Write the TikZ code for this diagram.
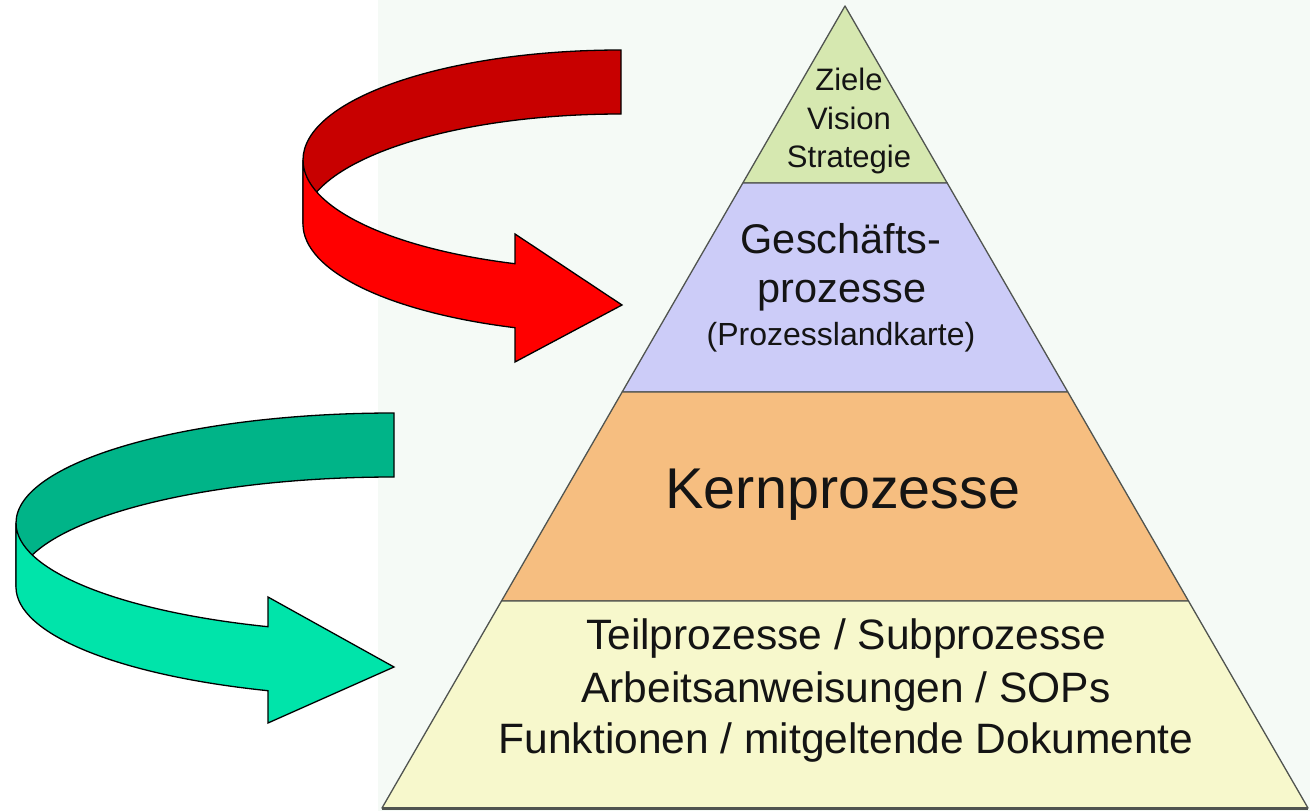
\documentclass[tikz,border=0pt]{standalone}
\usepackage{fontspec}
\setmainfont{Liberation Sans}
\usepackage{tikz}
\usetikzlibrary{calc}
\definecolor{bgpale}{RGB}{245,250,246}
\definecolor{edgegray}{RGB}{80,84,80}
\definecolor{txtdark}{RGB}{20,20,20}
\definecolor{lvlgreen}{RGB}{214,232,176}
\definecolor{lvlpurple}{RGB}{204,204,248}
\definecolor{lvlorange}{RGB}{246,190,128}
\definecolor{lvlyellow}{RGB}{247,248,204}
\definecolor{redback}{RGB}{200,0,0}
\definecolor{redfront}{RGB}{255,0,0}
\definecolor{greenback}{RGB}{0,180,136}
\definecolor{greenfront}{RGB}{0,228,170}
\newcommand{\fsz}[1]{\fontsize{#1}{#1}\selectfont}
\tikzset{
  layer/.style={draw=edgegray, line width=1.3pt, line join=round},
  ribbon/.style={draw=black, line width=1.3pt, line join=miter},
  lbl/.style={anchor=base, inner sep=0pt, text=txtdark}
}

\begin{document}
\begin{tikzpicture}[x=1pt, y=1pt]
  \useasboundingbox (0,0) rectangle (1310,-811);
  % Background panel
  \fill[bgpale] (378,0) rectangle (1310,-811);

  % Pyramid corners and layer edges
  \coordinate (apex) at (845,-6);
  \coordinate (bl) at (382,-808);
  \coordinate (br) at (1308,-808);
  \coordinate (l1) at ($(apex)!0.2207!(bl)$);
  \coordinate (r1) at ($(apex)!0.2207!(br)$);
  \coordinate (l2) at ($(apex)!0.4813!(bl)$);
  \coordinate (r2) at ($(apex)!0.4813!(br)$);
  \coordinate (l3) at ($(apex)!0.7419!(bl)$);
  \coordinate (r3) at ($(apex)!0.7419!(br)$);

  % Layers
  \filldraw[layer, fill=lvlgreen] (apex) -- (r1) -- (l1) -- cycle;
  \filldraw[layer, fill=lvlpurple] (l1) -- (r1) -- (r2) -- (l2) -- cycle;
  \filldraw[layer, fill=lvlorange] (l2) -- (r2) -- (r3) -- (l3) -- cycle;
  \filldraw[layer, fill=lvlyellow] (l3) -- (r3) -- (br) -- (bl) -- cycle;
  \draw[edgegray, line width=3pt] (bl) -- (br);

  % Layer texts
  \node[lbl, font=\fsz{31}] (ziele) at (849,-90) {Ziele};
  \node[lbl, font=\fsz{31}] (vision) at (849,-129) {Vision};
  \node[lbl, font=\fsz{31}] (strategie) at (849,-167) {Strategie};
  \node[lbl, font=\fsz{41.5}] (gesch) at (841,-253) {Geschäfts-};
  \node[lbl, font=\fsz{41.5}] (prozesse) at (842,-302) {prozesse};
  \node[lbl, font=\fsz{32}] (landkarte) at (841,-345) {(Prozesslandkarte)};
  \node[lbl, font=\fsz{57.5}] (kern) at (843,-508) {Kernprozesse};
  \node[lbl, font=\fsz{42.5}] (teil) at (846,-649) {Teilprozesse / Subprozesse};
  \node[lbl, font=\fsz{42.5}] (arbeit) at (846,-702) {Arbeitsanweisungen / SOPs};
  \node[lbl, font=\fsz{42.5}] (funktion) at (846,-753) {Funktionen / mitgeltende Dokumente};

  % Red ribbon, back part
  \filldraw[ribbon, fill=redback] (621,-50)
    arc[start angle=90, end angle=180, x radius=318pt, y radius=110pt]
    -- ++(0,-64)
    arc[start angle=180, end angle=90, x radius=318pt, y radius=110pt] -- cycle;
  % Red ribbon, front part with head
  \filldraw[ribbon, fill=redfront] (303,-160)
    arc[start angle=180, end angle=250.53, x radius=318pt, y radius=110pt]
    -- (515,-234) -- (622,-305) -- (515,-362) -- (515,-327.7)
    arc[start angle=250.53, end angle=180, x radius=318pt, y radius=110pt] -- cycle;

  % Green ribbon, back part
  \filldraw[ribbon, fill=greenback] (394,-413)
    arc[start angle=90, end angle=180, x radius=378pt, y radius=110pt]
    -- ++(0,-64)
    arc[start angle=180, end angle=90, x radius=378pt, y radius=110pt] -- cycle;
  % Green ribbon, front part with head
  \filldraw[ribbon, fill=greenfront] (16,-523)
    arc[start angle=180, end angle=250.53, x radius=378pt, y radius=110pt]
    -- (268,-597) -- (394,-667) -- (268,-723) -- (268,-690.7)
    arc[start angle=250.53, end angle=180, x radius=378pt, y radius=110pt] -- cycle;
\end{tikzpicture}
\end{document}
